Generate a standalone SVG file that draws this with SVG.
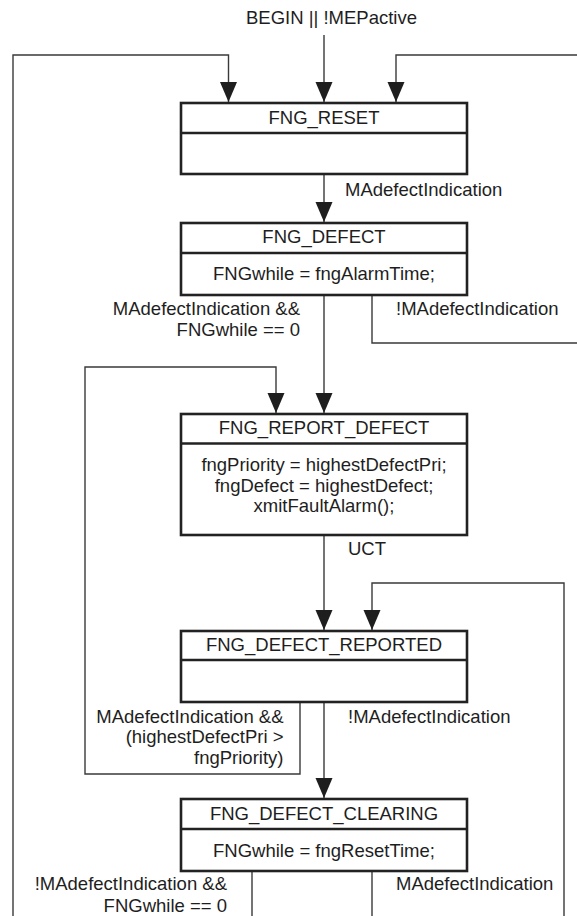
<svg xmlns="http://www.w3.org/2000/svg" width="577" height="916" viewBox="0 0 577 916">
<style>
text{font-family:"Liberation Sans",Arial,sans-serif;font-size:18.5px;fill:#1e1e1e}
.c{text-anchor:middle}
.e{text-anchor:end}
.box{fill:#fff;stroke:#222;stroke-width:2.6}
.div{stroke:#222;stroke-width:2.4}
.ln{fill:none;stroke:#3a3a3a;stroke-width:1.4}
</style>
<defs>
<marker id="ah" markerUnits="userSpaceOnUse" markerWidth="21" markerHeight="18" refX="20" refY="8.5" orient="auto">
<path d="M0,0 L20,8.5 L0,17 Z" fill="#1e1e1e"/>
</marker>
</defs>
<rect width="577" height="916" fill="#fff"/>
<g id="connectors">
<path class="ln" d="M324,35 V102" marker-end="url(#ah)"/>
<path class="ln" d="M13,916 V55 H228.5 V102" marker-end="url(#ah)"/>
<path class="ln" d="M577,55 H396 V102" marker-end="url(#ah)"/>
<path class="ln" d="M324,174 V222" marker-end="url(#ah)"/>
<path class="ln" d="M372,295 V343 H577"/>
<path class="ln" d="M324,295 V413" marker-end="url(#ah)"/>
<path class="ln" d="M300,702 V774 H85 V367 H276 V413" marker-end="url(#ah)"/>
<path class="ln" d="M324,535 V630" marker-end="url(#ah)"/>
<path class="ln" d="M564,916 V583 H372 V630" marker-end="url(#ah)"/>
<path class="ln" d="M324,702 V798" marker-end="url(#ah)"/>
<path class="ln" d="M252,871 V916"/>
<path class="ln" d="M372,871 V916"/>
<text x="246" y="24">BEGIN || !MEPactive</text>
<text x="345" y="195.5">MAdefectIndication</text>
<text class="e" x="300" y="315">MAdefectIndication &amp;&amp;</text>
<text class="e" x="300" y="336">FNGwhile == 0</text>
<text x="396" y="315">!MAdefectIndication</text>
<text x="348" y="555">UCT</text>
<text class="e" x="283.5" y="722.7">MAdefectIndication &amp;&amp;</text>
<text class="e" x="283.5" y="743.3">(highestDefectPri &gt;</text>
<text class="e" x="283.5" y="764">fngPriority)</text>
<text x="348" y="722.7">!MAdefectIndication</text>
<text class="e" x="227" y="890">!MAdefectIndication &amp;&amp;</text>
<text class="e" x="227" y="911.7">FNGwhile == 0</text>
<text x="396" y="890">MAdefectIndication</text>
</g>
<g id="FNG_RESET">
<rect class="box" x="181" y="103" width="286" height="71"/>
<line class="div" x1="181" y1="133" x2="467" y2="133"/>
<text class="c" x="324" y="123.5">FNG_RESET</text>
</g>
<g id="FNG_DEFECT">
<rect class="box" x="181" y="223" width="286" height="72"/>
<line class="div" x1="181" y1="253" x2="467" y2="253"/>
<text class="c" x="324" y="242.5">FNG_DEFECT</text>
<text class="c" x="324" y="280">FNGwhile = fngAlarmTime;</text>
</g>
<g id="FNG_REPORT_DEFECT">
<rect class="box" x="181" y="414" width="286" height="121"/>
<line class="div" x1="181" y1="443.5" x2="467" y2="443.5"/>
<text class="c" x="324" y="434.3">FNG_REPORT_DEFECT</text>
<text class="c" x="324" y="471">fngPriority = highestDefectPri;</text>
<text class="c" x="324" y="491.7">fngDefect = highestDefect;</text>
<text class="c" x="324" y="512.3">xmitFaultAlarm();</text>
</g>
<g id="FNG_DEFECT_REPORTED">
<rect class="box" x="181" y="631" width="286" height="71"/>
<line class="div" x1="181" y1="660" x2="467" y2="660"/>
<text class="c" x="324" y="651">FNG_DEFECT_REPORTED</text>
</g>
<g id="FNG_DEFECT_CLEARING">
<rect class="box" x="181" y="799" width="286" height="72"/>
<line class="div" x1="181" y1="829" x2="467" y2="829"/>
<text class="c" x="324" y="819.5">FNG_DEFECT_CLEARING</text>
<text class="c" x="324" y="856.7">FNGwhile = fngResetTime;</text>
</g>
</svg>
